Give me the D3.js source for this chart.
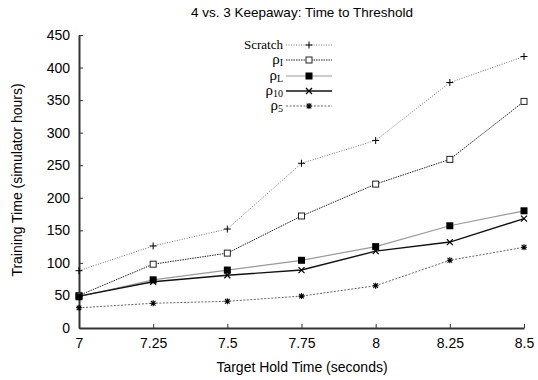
<!DOCTYPE html>
<html>
<head>
<meta charset="utf-8">
<script src="https://cdn.jsdelivr.net/npm/d3@7/dist/d3.min.js"></script>
<style>
  body { margin: 0; background: #fff; }
  svg { display: block; }
</style>
</head>
<body>
<div id="chart"></div>
<script>
const holdTimes = [7, 7.25, 7.5, 7.75, 8, 8.25, 8.5];
const xTicks = [7, 7.25, 7.5, 7.75, 8, 8.25, 8.5];
const yTicks = [0, 50, 100, 150, 200, 250, 300, 350, 400, 450];

const scratch = [88, 126, 152, 253, 288, 377, 417];
const rhoI = [50, 98, 115, 172, 221, 259, 348];
const rhoL = [48, 74, 89, 104, 125, 157, 180];
const rho10 = [49, 71, 81, 89, 118, 132, 168];
const rho5 = [31, 38, 41, 49, 65, 104, 124];

const width = 538, height = 380;
const margin = {top: 35, right: 14, bottom: 52, left: 79};
const sans = "'Liberation Sans', Arial, sans-serif";
const serif = "'Liberation Serif', 'Times New Roman', serif";

const svg = d3.select('#chart').append('svg')
  .attr('width', width)
  .attr('height', height);

const x = d3.scaleLinear()
  .domain([7, 8.5])
  .range([margin.left, width - margin.right]);
const y = d3.scaleLinear()
  .domain([0, 450])
  .range([height - margin.bottom, margin.top]);

const series = [
  {name: 'Scratch', values: scratch, stroke: '#777', width: 1, dash: '1,1.5', marker: 'plus'},
  {name: 'I', values: rhoI, stroke: '#222', width: 1, dash: '1.5,1', marker: 'openSquare'},
  {name: 'L', values: rhoL, stroke: '#999', width: 1.2, dash: null, marker: 'filledSquare'},
  {name: '10', values: rho10, stroke: '#111', width: 1.4, dash: null, marker: 'cross'},
  {name: '5', values: rho5, stroke: '#666', width: 1, dash: '2,1.5', marker: 'star'}
];

function drawMarker(g, type, cx, cy) {
  if (type === 'plus') {
    g.append('path').attr('d', `M${cx - 3.5},${cy}H${cx + 3.5}M${cx},${cy - 3.5}V${cy + 3.5}`)
      .attr('stroke', '#000').attr('stroke-width', 1);
  } else if (type === 'openSquare') {
    g.append('rect').attr('x', cx - 3).attr('y', cy - 3).attr('width', 6).attr('height', 6)
      .attr('fill', '#fff').attr('stroke', '#222').attr('stroke-width', 1);
  } else if (type === 'filledSquare') {
    g.append('rect').attr('x', cx - 3.5).attr('y', cy - 3.5).attr('width', 7).attr('height', 7)
      .attr('fill', '#000');
  } else if (type === 'cross') {
    g.append('path').attr('d', `M${cx - 3},${cy - 3}L${cx + 3},${cy + 3}M${cx - 3},${cy + 3}L${cx + 3},${cy - 3}`)
      .attr('stroke', '#000').attr('stroke-width', 1.2);
  } else if (type === 'star') {
    g.append('path').attr('d', `M${cx - 3},${cy}H${cx + 3}M${cx},${cy - 3}V${cy + 3}M${cx - 2.3},${cy - 2.3}L${cx + 2.3},${cy + 2.3}M${cx - 2.3},${cy + 2.3}L${cx + 2.3},${cy - 2.3}`)
      .attr('stroke', '#000').attr('stroke-width', 1.1);
  }
}

// axes
const xAxis = g => g
  .attr('transform', `translate(0,${height - margin.bottom})`)
  .call(d3.axisBottom(x).tickValues(xTicks).tickSizeInner(-4).tickSizeOuter(0).tickPadding(10)
    .tickFormat(d => String(d)))
  .call(g => g.select('.domain').attr('stroke', '#333').attr('stroke-width', 2));
const yAxis = g => g
  .attr('transform', `translate(${margin.left},0)`)
  .call(d3.axisLeft(y).tickValues(yTicks).tickSizeInner(-4).tickSizeOuter(0).tickPadding(9))
  .call(g => g.select('.domain').attr('stroke', '#333').attr('stroke-width', 2));

svg.append('g').call(xAxis)
  .call(g => g.selectAll('.tick text').attr('font-family', sans)
    .attr('font-size', 14).attr('fill', '#000'))
  .call(g => g.selectAll('.tick line').attr('stroke', '#333'));
svg.append('g').call(yAxis)
  .call(g => g.selectAll('.tick text').attr('font-family', sans)
    .attr('font-size', 14).attr('fill', '#000'))
  .call(g => g.selectAll('.tick line').attr('stroke', '#333'));

// lines
const line = d3.line()
  .x((d, i) => x(holdTimes[i]))
  .y(d => y(d));

series.forEach(s => {
  svg.append('path')
    .datum(s.values)
    .attr('fill', 'none')
    .attr('stroke', s.stroke)
    .attr('stroke-width', s.width)
    .attr('stroke-dasharray', s.dash)
    .attr('d', line);
});
series.forEach(s => {
  const g = svg.append('g');
  s.values.forEach((v, i) => drawMarker(g, s.marker, x(holdTimes[i]), y(v)));
});

// legend
const legend = svg.append('g');
const legendY = [45, 60, 76, 91, 106];
series.forEach((s, i) => {
  const ly = legendY[i];
  const t = legend.append('text')
    .attr('x', 283)
    .attr('y', ly + 4)
    .attr('text-anchor', 'end')
    .attr('font-family', serif)
    .attr('font-size', 13)
    .attr('fill', '#000');
  if (i === 0) {
    t.text(s.name);
  } else {
    t.append('tspan').attr('font-size', 15).text('ρ');
    t.append('tspan').attr('font-size', 10).attr('dy', 2).text(s.name);
  }
  legend.append('line')
    .attr('x1', 286).attr('x2', 332)
    .attr('y1', ly).attr('y2', ly)
    .attr('stroke', s.stroke)
    .attr('stroke-width', s.width)
    .attr('stroke-dasharray', s.dash);
  drawMarker(legend, s.marker, 309, ly);
});

// title and labels
svg.append('text')
  .attr('x', 302).attr('y', 17)
  .attr('text-anchor', 'middle')
  .attr('font-family', sans)
  .attr('font-size', 13.5)
  .text('4 vs. 3 Keepaway: Time to Threshold');

svg.append('text')
  .attr('x', 302).attr('y', 372)
  .attr('text-anchor', 'middle')
  .attr('font-family', sans)
  .attr('font-size', 14)
  .text('Target Hold Time (seconds)');

svg.append('text')
  .attr('transform', 'translate(22,180) rotate(-90)')
  .attr('text-anchor', 'middle')
  .attr('font-family', sans)
  .attr('font-size', 14)
  .text('Training Time (simulator hours)');
</script>
</body>
</html>
